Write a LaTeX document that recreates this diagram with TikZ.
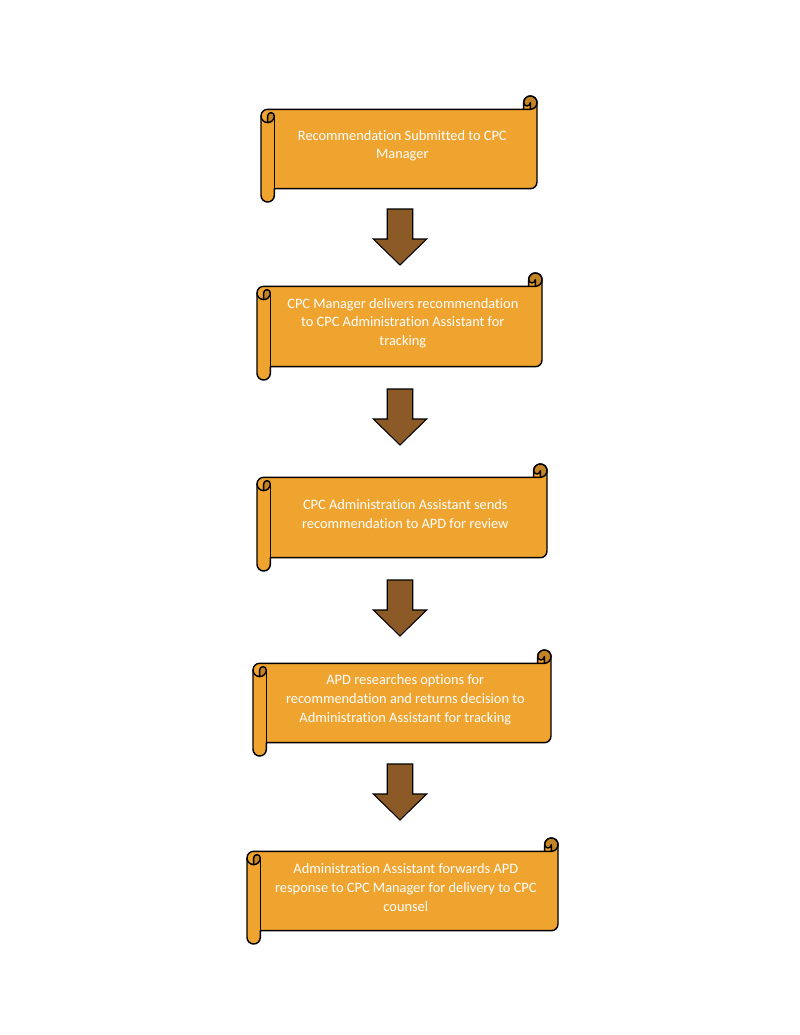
\documentclass[tikz,border=0pt]{standalone}
\usepackage{fontspec}
\setmainfont[Ligatures=NoCommon]{Carlito}

\definecolor{scrollorange}{RGB}{240,164,48}
\definecolor{scrollshade}{RGB}{196,132,38}
\definecolor{arrowbrown}{RGB}{140,90,38}

\tikzset{
  scrollbody/.style={draw=black, fill=scrollorange, line width=1.1pt, line join=round},
  scrollline/.style={draw=black, line width=1.1pt, line cap=round, line join=round},
  scrolltext/.style={text=white, align=center, font=\fontsize{11}{14.4}\selectfont, inner sep=0pt},
  downarrow/.style={draw=black, fill=arrowbrown, line width=0.8pt}
}

% roll size of the scrolls
\def\ch{13.3}\def\chh{6.65}\def\chq{3.325}

% name, left, top, right, bottom, text
\newcommand{\hscroll}[6]{%
  \begin{scope}[shift={(#2,#3)}]
    \pgfmathsetmacro{\scw}{#4-#2}
    \pgfmathsetmacro{\sch}{#5-#3}
    \path[scrollbody] (0,{1.5*\ch}) arc[start angle=180, end angle=270, radius=\chh]
      -- ({\scw-\ch},\ch) -- ({\scw-\ch},\chh) arc[start angle=180, end angle=360, radius=\chh]
      -- (\scw,{\sch-1.5*\ch}) arc[start angle=0, end angle=90, radius=\chh]
      -- (\ch,{\sch-\ch}) -- (\ch,{\sch-\chh}) arc[start angle=0, end angle=180, radius=\chh]
      -- cycle;
    % curls
    \fill[scrollshade] (\chh,{2*\ch}) arc[start angle=90, end angle=0, radius=\chh]
      arc[start angle=0, end angle=-180, radius=\chq] -- cycle;
    \fill[scrollshade] ({\scw-\chh},\ch) arc[start angle=90, end angle=-180, radius=\chh]
      arc[start angle=180, end angle=0, radius=\chq] -- cycle;
    \draw[scrollline] ({\scw-\ch},\ch) -- ({\scw-\chh},\ch) arc[start angle=90, end angle=-180, radius=\chh];
    \draw[scrollline] ({\scw-\chh},\ch) -- ({\scw-\chh},\chh) arc[start angle=0, end angle=180, radius=\chq];
    \draw[scrollline] (\chh,{2*\ch}) -- (\chh,{1.5*\ch}) arc[start angle=180, end angle=360, radius=\chq]
      arc[start angle=0, end angle=180, radius=\chh];
    \draw[scrollline] (\ch,{1.5*\ch}) -- (\ch,{\sch-\ch});
    \node[scrolltext] (#1) at ({(\ch+\scw-\chh)/2},{\sch/2-\ch/4}) {#6};
  \end{scope}}

\begin{document}
\begin{tikzpicture}[x=0.765pt, y=-0.765pt]
  \useasboundingbox[fill=white] (0,0) rectangle (800,1035);

  % Scrolls
  \hscroll{submitted}{261}{96}{537}{202}{Recommendation Submitted to CPC\\Manager}
  \hscroll{delivers}{257}{273}{542}{380}{CPC Manager delivers recommendation\\to CPC Administration Assistant for\\tracking}
  \hscroll{sends}{257}{464}{547}{571}{CPC Administration Assistant sends\\recommendation to APD for review}
  \hscroll{researches}{253}{650}{551}{756}{APD researches options for\\recommendation and returns decision to\\Administration Assistant for tracking}
  \hscroll{forwards}{247}{838}{558}{944}{Administration Assistant forwards APD\\response to CPC Manager for delivery to CPC\\counsel}

  % Arrows
  \foreach \y in {209,389,580,764}
    \draw[downarrow] (387.25,\y) -- (412.75,\y) -- (412.75,\y+30) -- (426.75,\y+30)
      -- (400,\y+56) -- (373.25,\y+30) -- (387.25,\y+30) -- cycle;
\end{tikzpicture}
\end{document}
